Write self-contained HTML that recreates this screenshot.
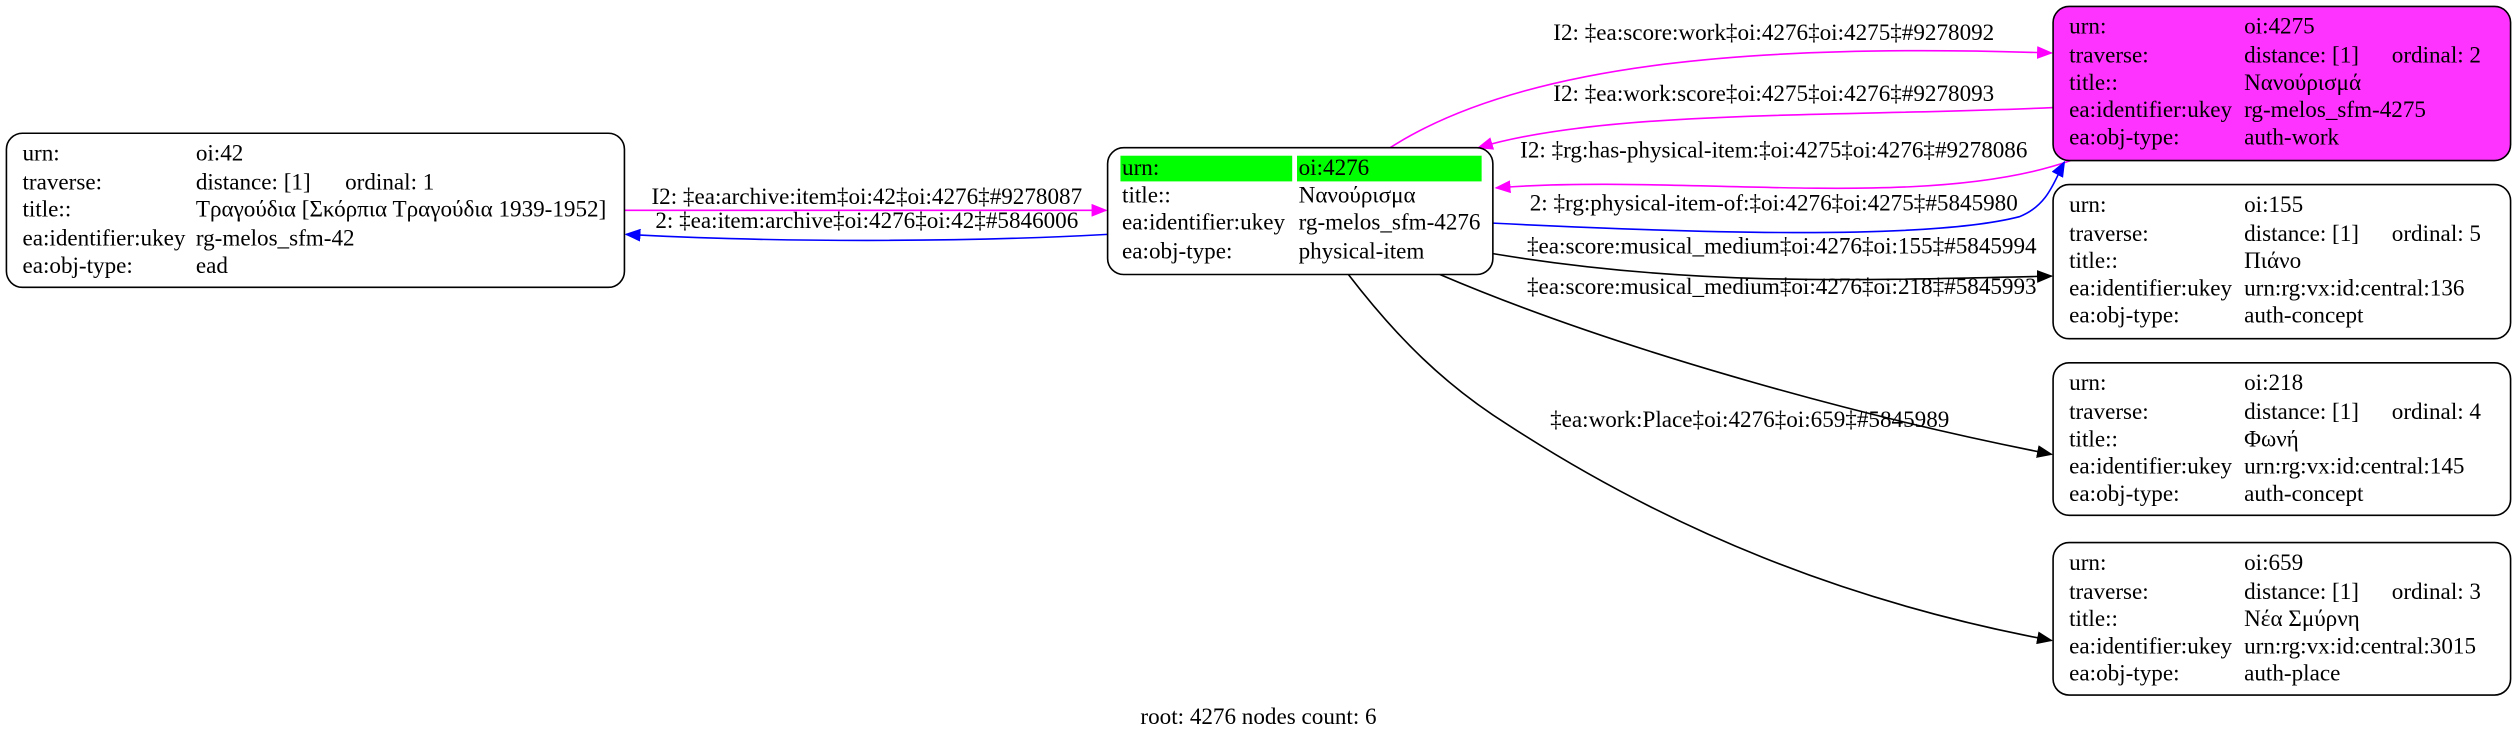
<!DOCTYPE html>
<html><head><meta charset="utf-8"><style>
html,body{margin:0;padding:0;background:#fff;}
svg{display:block;}
text{font-family:"Liberation Serif",serif;font-size:14.4px;fill:#000;}
</style></head><body>
<svg width="2517" height="732" viewBox="0 0 1568 456" xmlns="http://www.w3.org/2000/svg">
<defs>
<marker id="ak" markerWidth="10" markerHeight="8" refX="9" refY="4" orient="auto" markerUnits="userSpaceOnUse"><path d="M0,0 L10,4 L0,8 z" fill="#000"/></marker>
<marker id="am" markerWidth="10" markerHeight="8" refX="9" refY="4" orient="auto" markerUnits="userSpaceOnUse"><path d="M0,0 L10,4 L0,8 z" fill="#ff00ff"/></marker>
<marker id="ab" markerWidth="10" markerHeight="8" refX="9" refY="4" orient="auto" markerUnits="userSpaceOnUse"><path d="M0,0 L10,4 L0,8 z" fill="#0000ff"/></marker>
</defs>
<rect width="1568" height="456" fill="#fff"/>

<g fill="none" stroke-width="1">
<path d="M389,131 L689,131" stroke="#ff00ff" marker-end="url(#am)"/>
<path d="M690,146 C600,151 480,151 390,146" stroke="#0000ff" marker-end="url(#ab)"/>
<path d="M866,92 C950,38 1100,27 1278,33" stroke="#ff00ff" marker-end="url(#am)"/>
<path d="M1279,67 C1150,73 1000,68 921,92" stroke="#ff00ff" marker-end="url(#am)"/>
<path d="M1290,100 C1200,132 1050,108 932,117" stroke="#ff00ff" marker-end="url(#am)"/>
<path d="M930,139 C1050,145 1200,150 1258,135 C1276,128 1280,112 1286,101" stroke="#0000ff" marker-end="url(#ab)"/>
<path d="M930,158 C1050,178 1150,175 1278,172" stroke="#000" marker-end="url(#ak)"/>
<path d="M897,171 C1000,215 1150,258 1278,283" stroke="#000" marker-end="url(#ak)"/>
<path d="M840,171 C870,210 900,240 940,265 C1040,330 1150,375 1278,399" stroke="#000" marker-end="url(#ak)"/>
</g>

<g text-anchor="middle">
<text x="540" y="127">I2: ‡ea:archive:item‡oi:42‡oi:4276‡#9278087</text>
<text x="540" y="142">2: ‡ea:item:archive‡oi:4276‡oi:42‡#5846006</text>
<text x="1105" y="25">I2: ‡ea:score:work‡oi:4276‡oi:4275‡#9278092</text>
<text x="1105" y="63">I2: ‡ea:work:score‡oi:4275‡oi:4276‡#9278093</text>
<text x="1105" y="98">I2: ‡rg:has-physical-item:‡oi:4275‡oi:4276‡#9278086</text>
<text x="1105" y="131">2: ‡rg:physical-item-of:‡oi:4276‡oi:4275‡#5845980</text>
<text x="1110" y="158">‡ea:score:musical_medium‡oi:4276‡oi:155‡#5845994</text>
<text x="1110" y="183">‡ea:score:musical_medium‡oi:4276‡oi:218‡#5845993</text>
<text x="1090" y="266">‡ea:work:Place‡oi:4276‡oi:659‡#5845989</text>
</g>

<rect x="4" y="83" width="385" height="96" rx="10" fill="#fff" stroke="#000"/>
<text x="14" y="100">urn:</text><text x="122" y="100">oi:42</text>
<text x="14" y="118">traverse:</text><text x="122" y="118">distance: [1]</text><text x="215" y="118">ordinal: 1</text>
<text x="14" y="135">title::</text><text x="122" y="135">Τραγούδια [Σκόρπια Τραγούδια 1939-1952]</text>
<text x="14" y="153">ea:identifier:ukey</text><text x="122" y="153">rg-melos_sfm-42</text>
<text x="14" y="170">ea:obj-type:</text><text x="122" y="170">ead</text>

<rect x="690" y="92" width="240" height="79" rx="10" fill="#fff" stroke="#000"/>
<rect x="698" y="97" width="107" height="16" fill="#00ff00"/>
<rect x="808" y="97" width="115" height="16" fill="#00ff00"/>
<text x="699" y="109">urn:</text><text x="809" y="109">oi:4276</text>
<text x="699" y="126">title::</text><text x="809" y="126">Νανούρισμα</text>
<text x="699" y="143">ea:identifier:ukey</text><text x="809" y="143">rg-melos_sfm-4276</text>
<text x="699" y="161">ea:obj-type:</text><text x="809" y="161">physical-item</text>

<rect x="1279" y="4" width="285" height="96" rx="10" fill="#ff33ff" stroke="#000"/>
<text x="1289" y="21">urn:</text><text x="1398" y="21">oi:4275</text>
<text x="1289" y="39">traverse:</text><text x="1398" y="39">distance: [1]</text><text x="1490" y="39">ordinal: 2</text>
<text x="1289" y="56">title::</text><text x="1398" y="56">Νανούρισμά</text>
<text x="1289" y="73">ea:identifier:ukey</text><text x="1398" y="73">rg-melos_sfm-4275</text>
<text x="1289" y="90">ea:obj-type:</text><text x="1398" y="90">auth-work</text>

<rect x="1279" y="115" width="285" height="96" rx="10" fill="#fff" stroke="#000"/>
<text x="1289" y="132">urn:</text><text x="1398" y="132">oi:155</text>
<text x="1289" y="150">traverse:</text><text x="1398" y="150">distance: [1]</text><text x="1490" y="150">ordinal: 5</text>
<text x="1289" y="167">title::</text><text x="1398" y="167">Πιάνο</text>
<text x="1289" y="184">ea:identifier:ukey</text><text x="1398" y="184">urn:rg:vx:id:central:136</text>
<text x="1289" y="201">ea:obj-type:</text><text x="1398" y="201">auth-concept</text>

<rect x="1279" y="226" width="285" height="95" rx="10" fill="#fff" stroke="#000"/>
<text x="1289" y="243">urn:</text><text x="1398" y="243">oi:218</text>
<text x="1289" y="261">traverse:</text><text x="1398" y="261">distance: [1]</text><text x="1490" y="261">ordinal: 4</text>
<text x="1289" y="278">title::</text><text x="1398" y="278">Φωνή</text>
<text x="1289" y="295">ea:identifier:ukey</text><text x="1398" y="295">urn:rg:vx:id:central:145</text>
<text x="1289" y="312">ea:obj-type:</text><text x="1398" y="312">auth-concept</text>

<rect x="1279" y="338" width="285" height="95" rx="10" fill="#fff" stroke="#000"/>
<text x="1289" y="355">urn:</text><text x="1398" y="355">oi:659</text>
<text x="1289" y="373">traverse:</text><text x="1398" y="373">distance: [1]</text><text x="1490" y="373">ordinal: 3</text>
<text x="1289" y="390">title::</text><text x="1398" y="390">Νέα Σμύρνη</text>
<text x="1289" y="407">ea:identifier:ukey</text><text x="1398" y="407">urn:rg:vx:id:central:3015</text>
<text x="1289" y="424">ea:obj-type:</text><text x="1398" y="424">auth-place</text>

<text x="784" y="451" text-anchor="middle">root: 4276 nodes count: 6</text>
</svg>
</body></html>
